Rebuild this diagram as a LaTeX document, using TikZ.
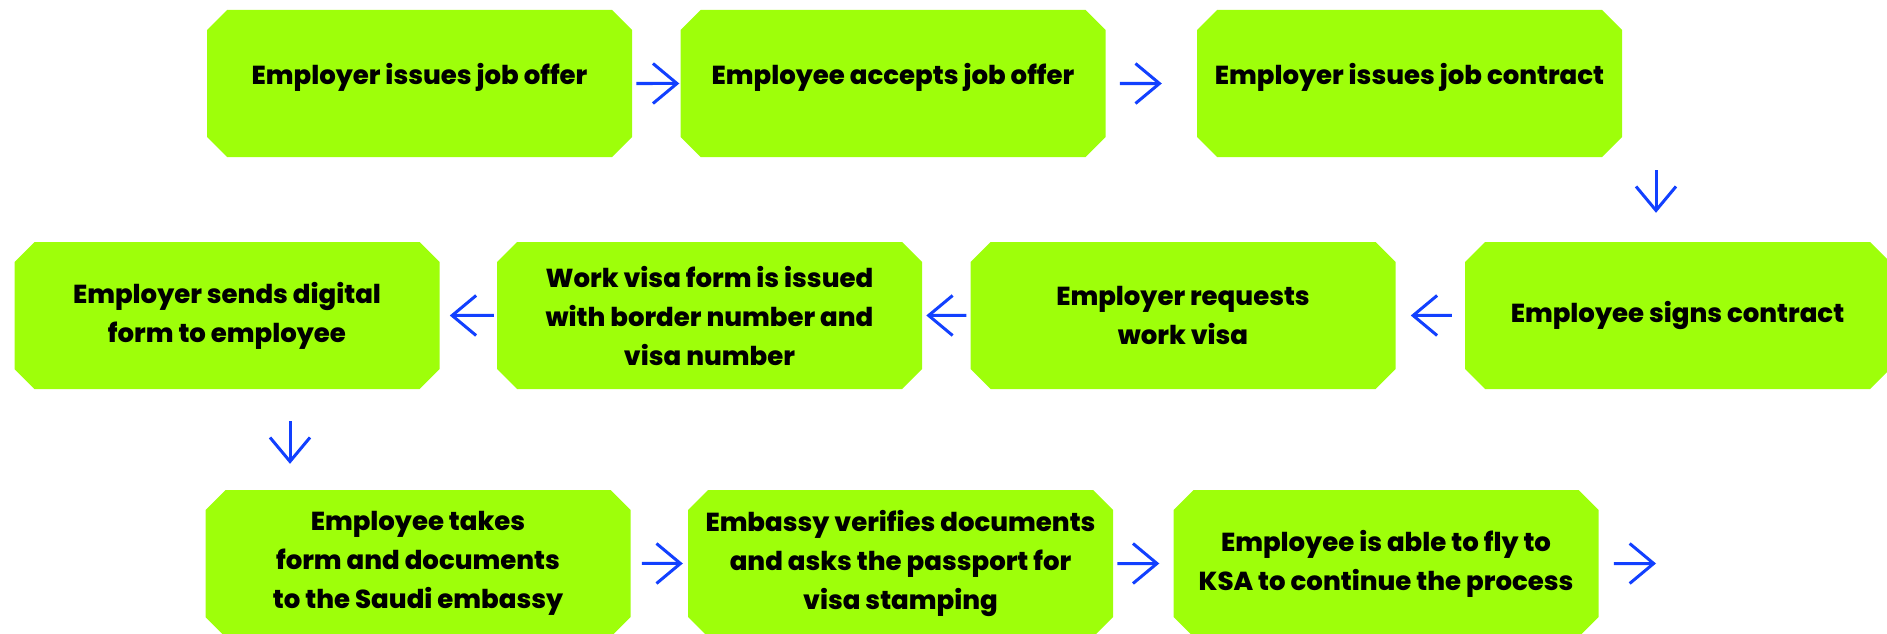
\documentclass[tikz,border=0pt]{standalone}
\usepackage{fontspec}
\setmainfont{Poppins}[BoldFont={Poppins ExtraBold}]
\usetikzlibrary{shapes.misc, arrows.meta}
\definecolor{limegreen}{RGB}{158,255,10}
\definecolor{flowblue}{RGB}{18,64,255}

\begin{document}
\begin{tikzpicture}[x=1pt, y=-1pt,
    stepbox/.style={chamfered rectangle, chamfered rectangle xsep=10pt, chamfered rectangle ysep=10pt,
        fill=limegreen, draw=none, minimum width=425pt, minimum height=147pt, inner sep=0pt,
        align=center, font=\bfseries\fontsize{26}{39}\selectfont},
    toprow/.style={text depth=20pt},
    flow/.style={draw=flowblue, line width=3pt, -{Straight Barb[length=24pt, width=40pt, sharp]}}]
    \useasboundingbox (0,0) rectangle (1887,634);
    \node[stepbox, toprow] (offer) at (419.5,83.5) {Employer issues job offer};
    \node[stepbox, toprow] (accept) at (893,83.5) {Employee accepts job offer};
    \node[stepbox, toprow] (contract) at (1409.5,83.5) {Employer issues job contract};
    \node[stepbox] (signs) at (1677.5,315.5) {Employee signs contract};
    \node[stepbox] (request) at (1183,315.5) {Employer requests\\work visa};
    \node[stepbox] (visaform) at (709.5,315.5) {Work visa form is issued\\with border number and\\visa number};
    \node[stepbox] (digital) at (227,315.5) {Employer sends digital\\form to employee};
    \node[stepbox] (takes) at (418,563.5) {Employee takes\\form and documents\\to the Saudi embassy};
    \node[stepbox] (verify) at (900.5,563.5) {Embassy verifies documents\\and asks the passport for\\visa stamping};
    \node[stepbox] (fly) at (1386,563.5) {Employee is able to fly to\\KSA to continue the process};
    \coordinate (next) at (1656,563.5);

    \draw[flow, shorten <=4pt, shorten >=1pt] (offer) -- (accept);
    \draw[flow, shorten <=14pt, shorten >=35pt] (accept) -- (contract);
    \draw[flow, shorten <=13pt, shorten >=29pt] ([xshift=246.5pt]contract.south) -- ([xshift=-21.5pt]signs.north);
    \draw[flow, shorten <=13pt, shorten >=15pt] (signs) -- (request);
    \draw[flow, shorten <=4pt, shorten >=4pt] (request) -- (visaform);
    \draw[flow, shorten <=3pt, shorten >=10pt] (visaform) -- (digital);
    \draw[flow, shorten <=32pt, shorten >=26pt] ([xshift=63pt]digital.south) -- ([xshift=-128pt]takes.north);
    \draw[flow, shorten <=11pt, shorten >=5pt] (takes) -- (verify);
    \draw[flow, shorten <=4pt, shorten >=14pt] (verify) -- (fly);
    \draw[flow, shorten <=15pt] (fly) -- (next);
\end{tikzpicture}
\end{document}
